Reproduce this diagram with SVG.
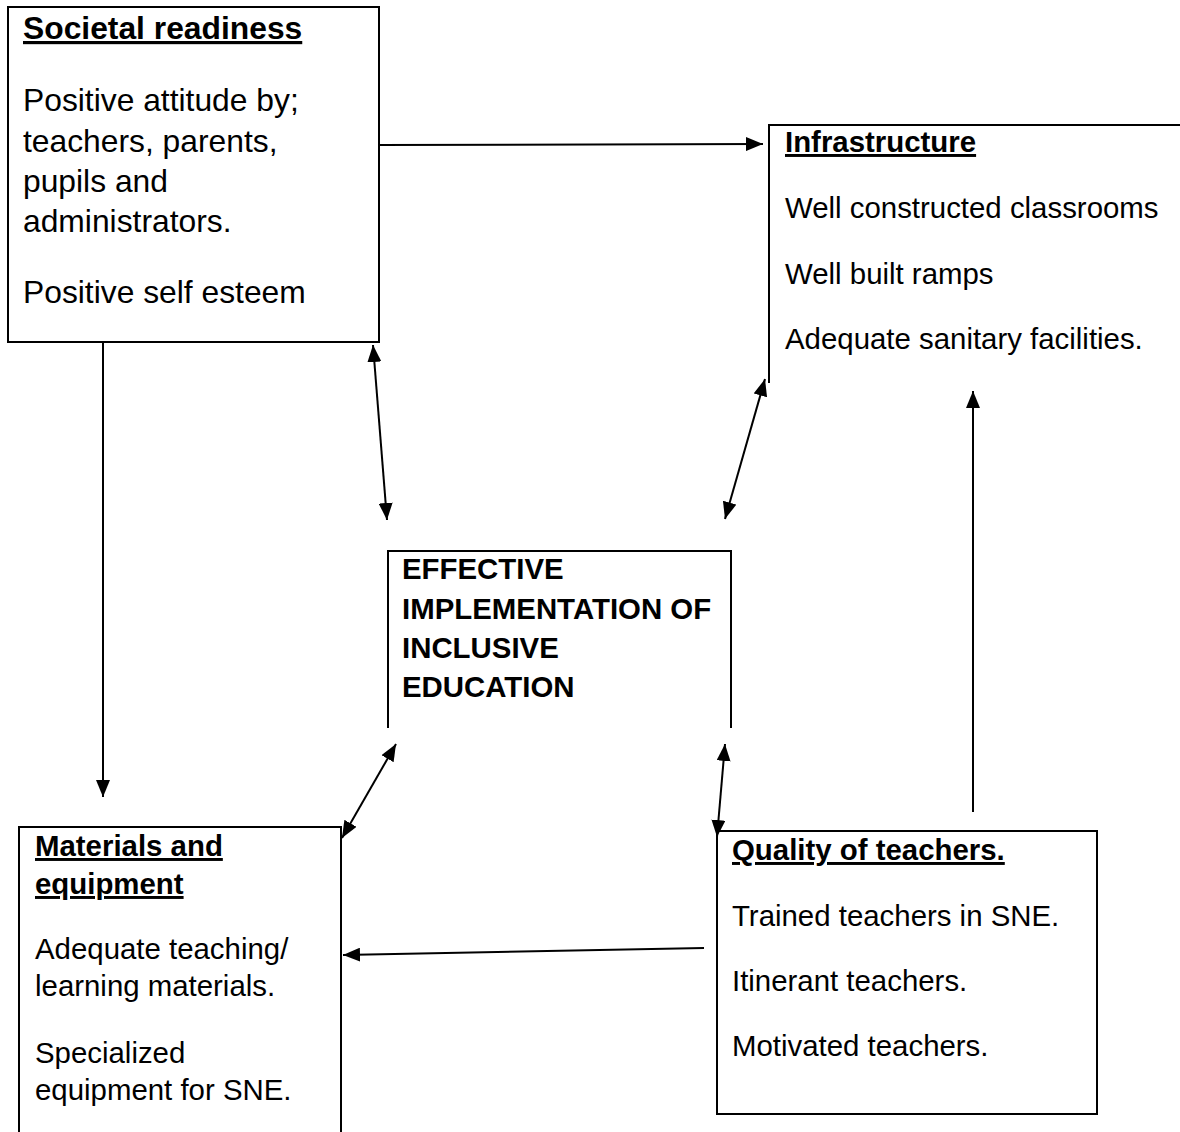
<svg xmlns="http://www.w3.org/2000/svg" width="1180" height="1132" viewBox="0 0 1180 1132">
<style>
.box{fill:none;stroke:#000;stroke-width:2}
.t{font-family:"Liberation Sans",Arial,sans-serif;fill:#000}
.big{font-size:31.8px}
.sm{font-size:29.4px}
.b{font-weight:bold}
.u{text-decoration:underline}
.c{stroke:#000;stroke-width:2;fill:none}
</style>
<defs>
<marker id="ah" viewBox="0 0 17 14" refX="17" refY="7" markerWidth="17" markerHeight="14" markerUnits="userSpaceOnUse" orient="auto-start-reverse">
<path d="M0,0 L17,7 L0,14 z" fill="#000"/>
</marker>
</defs>
<rect width="1180" height="1132" fill="#fff"/>
<g id="societal">
<rect class="box" x="8" y="7" width="371" height="335"/>
<text class="t big b u" x="23" y="39">Societal readiness</text>
<text class="t big" x="23" y="111">Positive attitude by;</text>
<text class="t big" x="23" y="152">teachers, parents,</text>
<text class="t big" x="23" y="192">pupils and</text>
<text class="t big" x="23" y="232">administrators.</text>
<text class="t big" x="23" y="303">Positive self esteem</text>
</g>
<g id="infrastructure">
<path class="box" d="M1180,125 H769 V383"/>
<text class="t sm b u" x="785" y="152">Infrastructure</text>
<text class="t sm" x="785" y="218"> Well constructed classrooms</text>
<text class="t sm" x="785" y="284">Well built ramps</text>
<text class="t sm" x="785" y="349">Adequate sanitary facilities.</text>
</g>
<g id="effective">
<path class="box" d="M388,728 V551 H731 V728"/>
<text class="t sm b" x="402" y="579">EFFECTIVE</text>
<text class="t sm b" x="402" y="619">IMPLEMENTATION OF</text>
<text class="t sm b" x="402" y="658">INCLUSIVE</text>
<text class="t sm b" x="402" y="697">EDUCATION</text>
</g>
<g id="materials">
<path class="box" d="M19,1140 V827 H341 V1140"/>
<text class="t sm b u" x="35" y="856">Materials and</text>
<text class="t sm b u" x="35" y="894">equipment</text>
<text class="t sm" x="35" y="959">Adequate teaching/</text>
<text class="t sm" x="35" y="996">learning materials.</text>
<text class="t sm" x="35" y="1063">Specialized</text>
<text class="t sm" x="35" y="1100">equipment for SNE.</text>
</g>
<g id="quality">
<rect class="box" x="717" y="831" width="380" height="283"/>
<text class="t sm b u" x="732" y="860">Quality of teachers.</text>
<text class="t sm" x="732" y="926">Trained teachers in SNE.</text>
<text class="t sm" x="732" y="991">Itinerant teachers.</text>
<text class="t sm" x="732" y="1056">Motivated teachers.</text>
</g>
<g id="connectors">
<line class="c" x1="378" y1="145" x2="763" y2="144" marker-end="url(#ah)"/>
<line class="c" x1="103" y1="343" x2="103" y2="797" marker-end="url(#ah)"/>
<line class="c" x1="373" y1="345" x2="387" y2="520" marker-start="url(#ah)" marker-end="url(#ah)"/>
<line class="c" x1="765" y1="379" x2="725" y2="519" marker-start="url(#ah)" marker-end="url(#ah)"/>
<line class="c" x1="396" y1="744" x2="342" y2="838" marker-start="url(#ah)" marker-end="url(#ah)"/>
<line class="c" x1="725" y1="744" x2="717" y2="837" marker-start="url(#ah)" marker-end="url(#ah)"/>
<line class="c" x1="973" y1="812" x2="973" y2="391" marker-end="url(#ah)"/>
<line class="c" x1="704" y1="948" x2="343" y2="955" marker-end="url(#ah)"/>
</g>
</svg>
